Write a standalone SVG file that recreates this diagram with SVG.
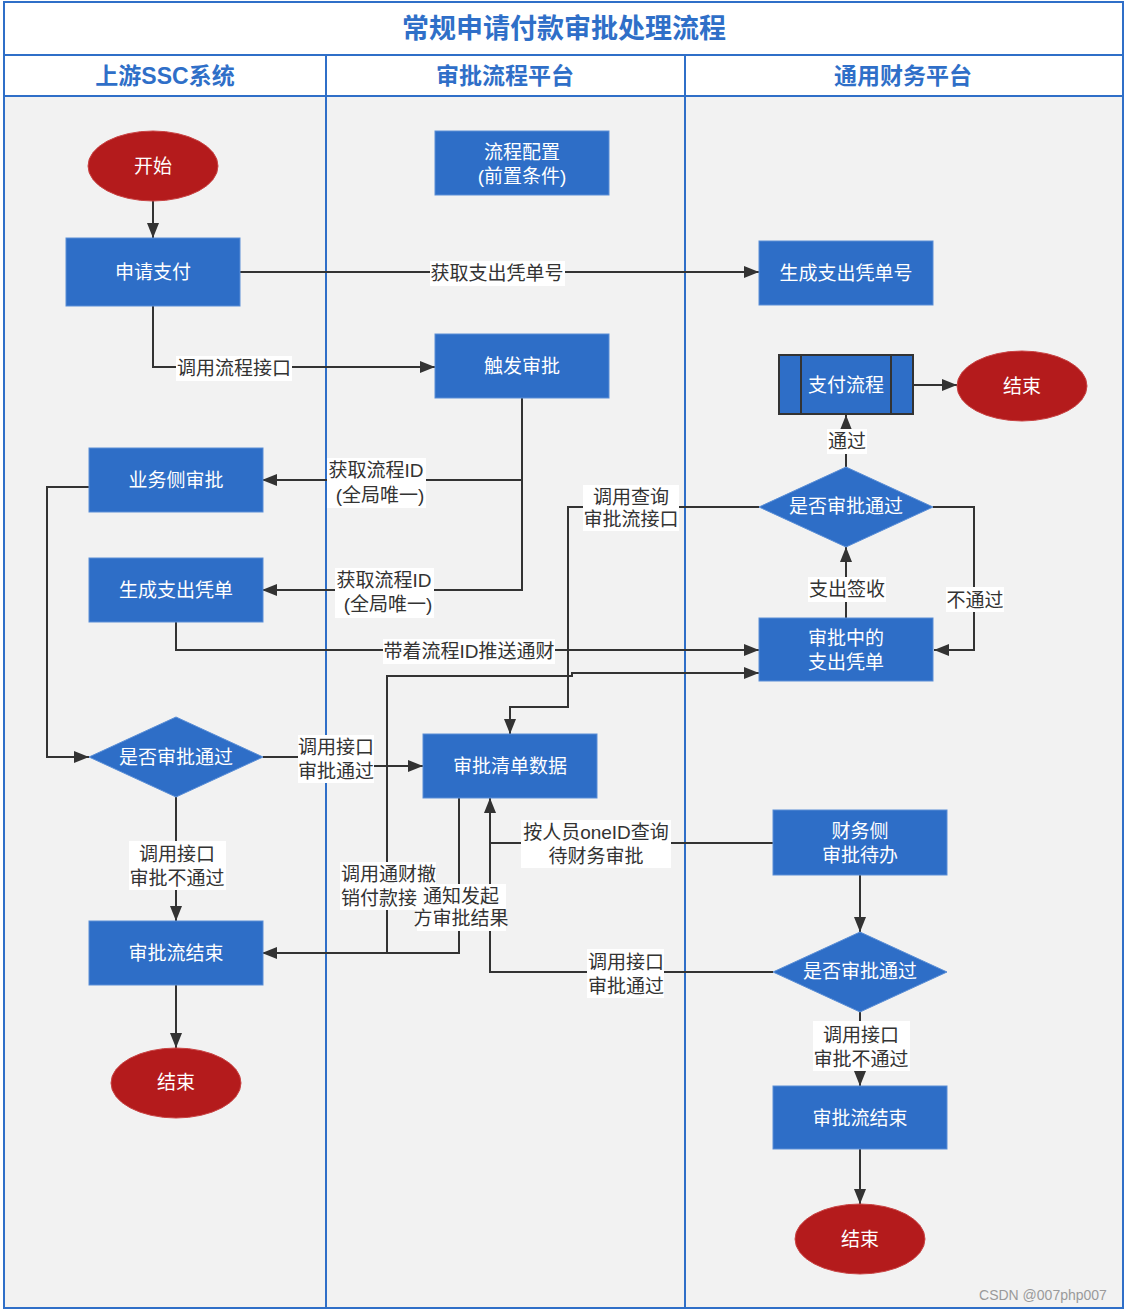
<svg xmlns="http://www.w3.org/2000/svg" width="1124" height="1312" viewBox="0 0 1124 1312">
<defs>
<style>
.frame{stroke:#2F6FC8;stroke-width:2;fill:none}
.node{fill:#2E6EC7;stroke:#5A8ED6;stroke-width:1}
.term{fill:#B41B1C;stroke:#C94444;stroke-width:1}
.nt{font-family:"Liberation Sans","Noto Sans CJK SC",sans-serif;font-size:19px;fill:#FFFFFF;text-anchor:middle;dominant-baseline:central}
.lt{font-family:"Liberation Sans","Noto Sans CJK SC",sans-serif;font-size:19px;fill:#333333;text-anchor:middle;dominant-baseline:central}
.lbg{fill:#FFFFFF}
.hd{font-family:"Liberation Sans","Noto Sans CJK SC",sans-serif;font-weight:bold;fill:#2F6FC8;text-anchor:middle;dominant-baseline:central}
.conn path{fill:none;stroke:#333333;stroke-width:2}
</style>
<marker id="arr" markerUnits="userSpaceOnUse" markerWidth="15" markerHeight="12" refX="15" refY="6" orient="auto">
<path d="M0,0 L15,6 L0,12 z" fill="#333333"/>
</marker>
</defs>

<!-- background / swimlanes -->
<rect x="0" y="0" width="1124" height="1312" fill="#FFFFFF"/>
<rect x="4" y="96" width="1119" height="1212" fill="#F2F2F2"/>
<rect class="frame" x="4" y="2" width="1119" height="1306"/>
<line class="frame" x1="4" y1="55" x2="1123" y2="55"/>
<line class="frame" x1="4" y1="96" x2="1123" y2="96"/>
<line class="frame" x1="326" y1="55" x2="326" y2="1308"/>
<line class="frame" x1="685" y1="55" x2="685" y2="1308"/>
<text class="hd" x="564" y="29" font-size="27">常规申请付款审批处理流程</text>
<text class="hd" x="165" y="76" font-size="23">上游SSC系统</text>
<text class="hd" x="505" y="76" font-size="23">审批流程平台</text>
<text class="hd" x="903" y="76" font-size="23">通用财务平台</text>

<!-- connectors -->
<g id="connectors" class="conn">
<path d="M153,201 L153,238" marker-end="url(#arr)"/>
<path d="M240,272 L759,272" marker-end="url(#arr)"/>
<path d="M153,306 L153,367 L435,367" marker-end="url(#arr)"/>
<path d="M522,398 L522,480 L262,480" marker-end="url(#arr)"/>
<path d="M522,398 L522,590 L262,590" marker-end="url(#arr)"/>
<path d="M176,622 L176,650 L759,650" marker-end="url(#arr)"/>
<path d="M89,487 L47,487 L47,757 L89,757" marker-end="url(#arr)"/>
<path d="M263,757 L336,757 L336,766 L423,766" marker-end="url(#arr)"/>
<path d="M176,797 L176,921" marker-end="url(#arr)"/>
<path d="M176,985 L176,1048" marker-end="url(#arr)"/>
<path d="M459,798 L459,953 L262,953" marker-end="url(#arr)"/>
<path d="M300,953 L387,953 L387,676 L572,676 L572,673 L759,673" marker-end="url(#arr)"/>
<path d="M759,507 L568,507 L568,707 L510,707 L510,734" marker-end="url(#arr)"/>
<path d="M846,618 L846,547" marker-end="url(#arr)"/>
<path d="M846,467 L846,415" marker-end="url(#arr)"/>
<path d="M914,385 L957,385" marker-end="url(#arr)"/>
<path d="M933,507 L974,507 L974,650 L934,650" marker-end="url(#arr)"/>
<path d="M773,843 L490,843 L490,798" marker-end="url(#arr)"/>
<path d="M773,972 L490,972 L490,843"/>
<path d="M860,875 L860,932" marker-end="url(#arr)"/>
<path d="M860,1012 L860,1086" marker-end="url(#arr)"/>
<path d="M860,1149 L860,1204" marker-end="url(#arr)"/>
</g>

<!-- connector labels -->
<g id="labels">
<rect class="lbg" x="430" y="261" width="135" height="25"/>
<text class="lt" x="497" y="273">获取支出凭单号</text>
<rect class="lbg" x="176" y="356" width="116" height="25"/>
<text class="lt" x="234" y="368">调用流程接口</text>
<rect class="lbg" x="327" y="458" width="99" height="50"/>
<text class="lt" x="376" y="470">获取流程ID</text>
<text class="lt" x="380" y="495">(全局唯一)</text>
<rect class="lbg" x="335" y="568" width="99" height="50"/>
<text class="lt" x="384" y="580">获取流程ID</text>
<text class="lt" x="388" y="604">(全局唯一)</text>
<rect class="lbg" x="383" y="639" width="172" height="25"/>
<text class="lt" x="469" y="651">带着流程ID推送通财</text>
<rect class="lbg" x="298" y="735" width="76" height="48"/>
<text class="lt" x="336" y="747">调用接口</text>
<text class="lt" x="336" y="771">审批通过</text>
<rect class="lbg" x="129" y="841" width="97" height="49"/>
<text class="lt" x="177" y="854">调用接口</text>
<text class="lt" x="177" y="878">审批不通过</text>
<rect class="lbg" x="340" y="862" width="96" height="48"/>
<text class="lt" x="341" y="874" style="text-anchor:start">调用通财撤</text>
<text class="lt" x="341" y="898" style="text-anchor:start">销付款接</text>
<rect class="lbg" x="417" y="884" width="89" height="47"/>
<text class="lt" x="461" y="896">通知发起</text>
<text class="lt" x="461" y="918">方审批结果</text>
<rect class="lbg" x="583" y="485" width="96" height="46"/>
<text class="lt" x="631" y="497">调用查询</text>
<text class="lt" x="631" y="519">审批流接口</text>
<rect class="lbg" x="808" y="577" width="78" height="25"/>
<text class="lt" x="847" y="589">支出签收</text>
<rect class="lbg" x="827" y="429" width="40" height="25"/>
<text class="lt" x="847" y="441">通过</text>
<rect class="lbg" x="946" y="587" width="58" height="25"/>
<text class="lt" x="975" y="600">不通过</text>
<rect class="lbg" x="521" y="820" width="150" height="48"/>
<text class="lt" x="596" y="832">按人员oneID查询</text>
<text class="lt" x="596" y="856">待财务审批</text>
<rect class="lbg" x="587" y="949" width="77" height="49"/>
<text class="lt" x="626" y="962">调用接口</text>
<text class="lt" x="626" y="986">审批通过</text>
<rect class="lbg" x="813" y="1021" width="97" height="50"/>
<text class="lt" x="861" y="1035">调用接口</text>
<text class="lt" x="861" y="1059">审批不通过</text>
</g>

<!-- nodes -->
<g id="n-start"><ellipse class="term" cx="153" cy="166" rx="65" ry="35"/><text class="nt" x="153" y="166">开始</text></g>
<g id="n-apply"><rect class="node" x="66" y="238" width="174" height="68"/><text class="nt" x="153" y="272">申请支付</text></g>
<g id="n-config"><rect class="node" x="435" y="131" width="174" height="64"/><text class="nt" x="522" y="152">流程配置</text><text class="nt" x="522" y="176">(前置条件)</text></g>
<g id="n-trigger"><rect class="node" x="435" y="334" width="174" height="64"/><text class="nt" x="522" y="366">触发审批</text></g>
<g id="n-voucherno"><rect class="node" x="759" y="241" width="174" height="64"/><text class="nt" x="846" y="273">生成支出凭单号</text></g>
<g id="n-payflow"><rect x="779" y="355" width="134" height="59" fill="#2E6EC7" stroke="#333333" stroke-width="2"/><line x1="801" y1="355" x2="801" y2="414" stroke="#333333" stroke-width="2"/><line x1="891" y1="355" x2="891" y2="414" stroke="#333333" stroke-width="2"/><text class="nt" x="846" y="385">支付流程</text></g>
<g id="n-end1"><ellipse class="term" cx="1022" cy="386" rx="65" ry="35"/><text class="nt" x="1022" y="386">结束</text></g>
<g id="n-dec-right"><polygon class="node" points="759,507 846,467 933,507 846,547"/><text class="nt" x="846" y="506">是否审批通过</text></g>
<g id="n-pending"><rect class="node" x="759" y="618" width="174" height="63"/><text class="nt" x="846" y="638">审批中的</text><text class="nt" x="846" y="662">支出凭单</text></g>
<g id="n-bizapprove"><rect class="node" x="89" y="448" width="174" height="64"/><text class="nt" x="176" y="480">业务侧审批</text></g>
<g id="n-voucher"><rect class="node" x="89" y="558" width="174" height="64"/><text class="nt" x="176" y="590">生成支出凭单</text></g>
<g id="n-dec-left"><polygon class="node" points="89,757 176,717 263,757 176,797"/><text class="nt" x="176" y="757">是否审批通过</text></g>
<g id="n-list"><rect class="node" x="423" y="734" width="174" height="64"/><text class="nt" x="510" y="766">审批清单数据</text></g>
<g id="n-flowend-left"><rect class="node" x="89" y="921" width="174" height="64"/><text class="nt" x="176" y="953">审批流结束</text></g>
<g id="n-end2"><ellipse class="term" cx="176" cy="1083" rx="65" ry="35"/><text class="nt" x="176" y="1082">结束</text></g>
<g id="n-fintodo"><rect class="node" x="773" y="810" width="174" height="65"/><text class="nt" x="860" y="831">财务侧</text><text class="nt" x="860" y="855">审批待办</text></g>
<g id="n-dec-bottom"><polygon class="node" points="773,972 860,932 947,972 860,1012"/><text class="nt" x="860" y="971">是否审批通过</text></g>
<g id="n-flowend-right"><rect class="node" x="773" y="1086" width="174" height="63"/><text class="nt" x="860" y="1118">审批流结束</text></g>
<g id="n-end3"><ellipse class="term" cx="860" cy="1239" rx="65" ry="35"/><text class="nt" x="860" y="1239">结束</text></g>

<text x="1043" y="1295" font-family="Liberation Sans,Noto Sans CJK SC,sans-serif" font-size="14" fill="#9A9A9A" text-anchor="middle" dominant-baseline="central">CSDN @007php007</text>
</svg>
